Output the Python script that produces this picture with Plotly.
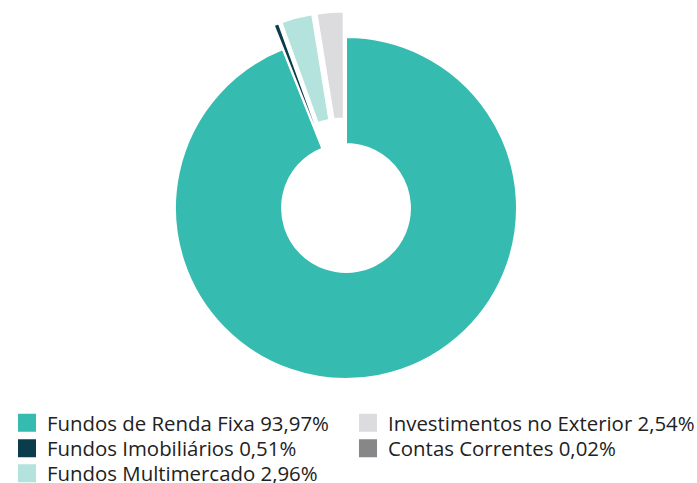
import plotly.graph_objects as go

labels = ["Fundos de Renda Fixa", "Fundos Imobiliários", "Fundos Multimercado",
          "Investimentos no Exterior", "Contas Correntes"]
values = [93.97, 0.51, 2.96, 2.54, 0.02]
value_text = ["93,97%", "0,51%", "2,96%", "2,54%", "0,02%"]
colors = ["#35BBAF", "#0B3C4B", "#B4E2DC", "#DCDCDE", "#87878A"]
pulls = [0, 0.15, 0.15, 0.15, 0.15]

W, H = 697, 483
cx, cy_px, r = 346, 208, 171
maxpull = max(pulls)
half = r * (1 + maxpull)

# legend slot positions (pixels): (x of legend box, y of row centre)
legend_pos = [(7, 423), (7, 448.5), (7, 473.5), (348, 423), (348, 448.5)]

fig = go.Figure()
fig.add_trace(go.Pie(
    labels=labels, values=values, sort=False, direction="clockwise", rotation=0,
    hole=0.374, pull=pulls, textinfo="none", hoverinfo="skip", showlegend=False,
    marker=dict(colors=colors, line=dict(color="white", width=2)),
    domain=dict(x=[0, 2 * cx / W], y=[1 - (cy_px + half) / H, 1 - (cy_px - half) / H]),
))

legend_layout = {}
for i, (lab, vt, col) in enumerate(zip(labels, value_text, colors)):
    key = "legend" if i == 0 else f"legend{i + 1}"
    fig.add_trace(go.Scatter(
        x=[None], y=[None], mode="markers", name=f"{lab} {vt}",
        marker=dict(symbol="square", size=16, color=col, line=dict(color=col, width=2)),
        legend=key, hoverinfo="skip",
    ))
    lx, ly = legend_pos[i]
    legend_layout[key] = dict(
        x=lx / W, y=1 - ly / H, xanchor="left", yanchor="middle",
        orientation="v", font=dict(family="Open Sans", size=20.4, color="#222222"),
        bgcolor="rgba(0,0,0,0)", itemclick=False, itemdoubleclick=False,
    )

fig.update_layout(
    width=W, height=H, margin=dict(l=0, r=0, t=0, b=0, autoexpand=False),
    paper_bgcolor="white", plot_bgcolor="white",
    xaxis=dict(visible=False), yaxis=dict(visible=False),
    **legend_layout,
)
fig.write_html("out.html", config={"displayModeBar": False},
               post_script="document.body.style.margin='0';")
